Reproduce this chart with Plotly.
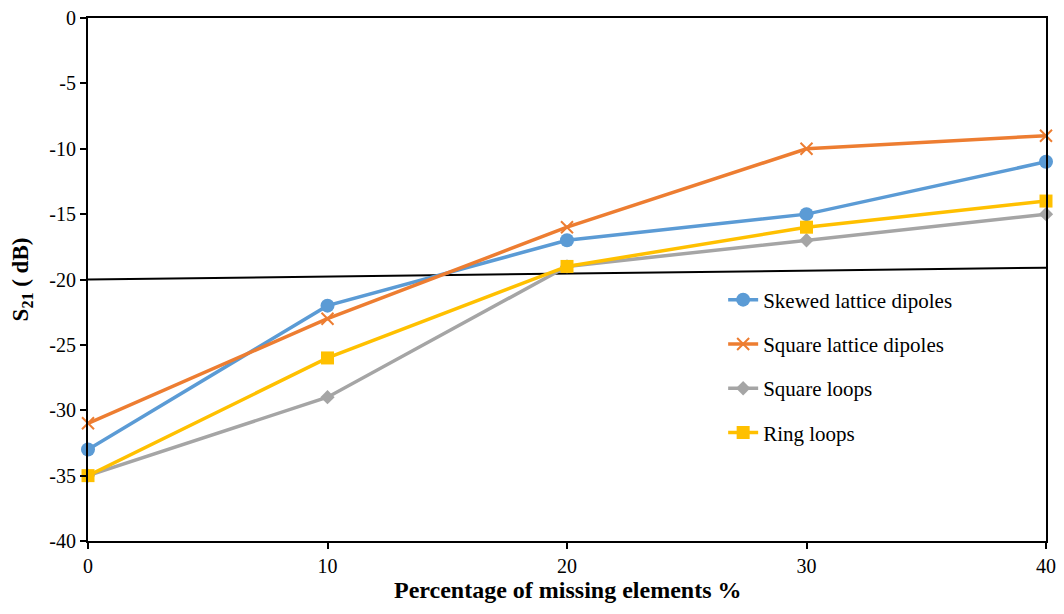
import plotly.graph_objects as go

# dados
missing_pct = [0, 10, 20, 30, 40]
skewed_dipoles = [-33, -22, -17, -15, -11]
square_dipoles = [-31, -23, -16, -10, -9]
square_loops = [-35, -29, -19, -17, -15]
ring_loops = [-35, -26, -19, -16, -14]
ref_x = [0, 40]
ref_y = [-20, -19.1]
y_ticks = [0, -5, -10, -15, -20, -25, -30, -35, -40]
y_tick_labels = ["0", "-5", "-10", "-15", "-20", "-25", "-30", "-35", "-40"]

FONT = "Liberation Serif, Times New Roman, serif"

series = [
    ("Skewed lattice dipoles", skewed_dipoles, "#5B9BD5", "circle", 14),
    ("Square lattice dipoles", square_dipoles, "#ED7D31", "x-thin", 12),
    ("Square loops", square_loops, "#A5A5A5", "diamond", 11),
    ("Ring loops", ring_loops, "#FFC000", "square", 13),
]

fig = go.Figure()

fig.add_trace(
    go.Scatter(
        x=ref_x,
        y=ref_y,
        mode="lines",
        line=dict(color="black", width=2),
        showlegend=False,
        hoverinfo="skip",
    )
)

for name, values, color, symbol, size in series:
    fig.add_trace(
        go.Scatter(
            x=missing_pct,
            y=values,
            mode="lines+markers",
            name=name,
            legendgroup=name,
            line=dict(color=color, width=3.5),
            marker=dict(
                symbol=symbol,
                size=size,
                color=color,
                line=dict(color=color, width=2 if symbol == "x-thin" else 0),
            ),
            cliponaxis=False,
        )
    )

axis_common = dict(
    showline=True,
    linecolor="black",
    linewidth=2,
    mirror=True,
    ticks="outside",
    ticklen=6,
    tickcolor="black",
    tickwidth=1.5,
    showgrid=False,
    zeroline=False,
    automargin=False,
    ticklabeloverflow="allow",
    tickfont=dict(family=FONT, size=20, color="black"),
)

# a pagina tem 8px de margem no body
fig.update_layout(
    width=1048,
    height=598,
    paper_bgcolor="white",
    plot_bgcolor="white",
    margin=dict(l=80, r=10, t=10, b=65),
    font=dict(family=FONT, color="black"),
    xaxis=dict(range=[0, 40], dtick=10, **axis_common),
    yaxis=dict(
        range=[-40, 0],
        tickvals=y_ticks,
        ticktext=y_tick_labels,
        title=dict(
            text="<b>S<sub>21</sub> ( dB)</b>",
            font=dict(family=FONT, size=23),
        ),
        **axis_common,
    ),
    legend=dict(
        x=0.663,
        y=0.50,
        xanchor="left",
        yanchor="top",
        bgcolor="rgba(0,0,0,0)",
        font=dict(family=FONT, size=21, color="black"),
        tracegroupgap=14,
    ),
)

# titulo do eixo x como anotacao para controlar a posicao
fig.add_annotation(
    text="<b>Percentage of missing elements %</b>",
    xref="paper",
    yref="paper",
    x=0.5,
    y=-0.123,
    xanchor="center",
    yanchor="bottom",
    showarrow=False,
    font=dict(family=FONT, size=24, color="black"),
)

fig.write_html("out.html")
